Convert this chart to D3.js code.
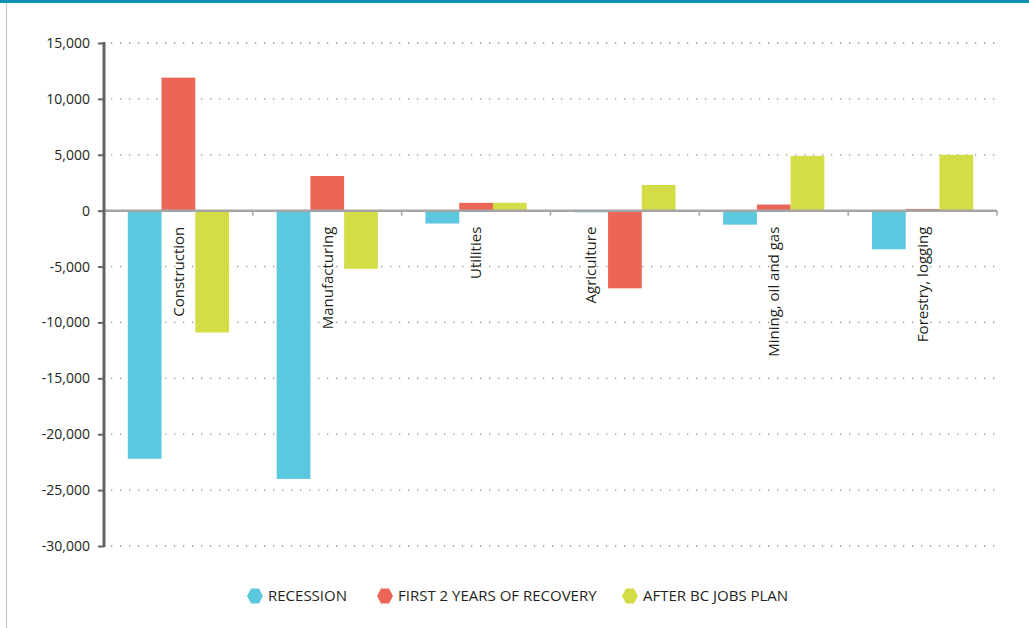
<!DOCTYPE html>
<html>
<head>
<meta charset="utf-8">
<script src="https://cdn.jsdelivr.net/npm/d3@7"></script>
<style>
  html, body { margin: 0; padding: 0; background: #fff; }
  svg { display: block; }
  text { font-family: "Open Sans", "DejaVu Sans", sans-serif; fill: #231f20; }
</style>
</head>
<body>
<svg id="chart" width="1029" height="628"></svg>
<script>
const categories = ["Construction", "Manufacturing", "Utilities", "Agriculture", "Mining, oil and gas", "Forestry, logging"];
const recession = [-22200, -24000, -1150, -150, -1250, -3450];
const recovery = [11900, 3100, 700, -6950, 550, 150];
const jobsPlan = [-10900, -5200, 700, 2300, 4900, 5000];
const seriesNames = ["RECESSION", "FIRST 2 YEARS OF RECOVERY", "AFTER BC JOBS PLAN"];
const seriesColors = ["#5bc8df", "#ec6657", "#d4dc46"];
const yTicks = [15000, 10000, 5000, 0, -5000, -10000, -15000, -20000, -25000, -30000];

(function () {
const seriesValues = [recession, recovery, jobsPlan];
const svg = d3.select("#chart");

// frame
svg.append("rect").attr("x", 0).attr("y", 0).attr("width", 1029).attr("height", 3).attr("fill", "#0a91b1");
svg.append("line").attr("x1", 6.5).attr("x2", 6.5).attr("y1", 3).attr("y2", 628)
  .attr("stroke", "#c6c6c6").attr("stroke-width", 1.2);

const pLeft = 104, pRight = 997, pTop = 43, pBottom = 546;
const y = d3.scaleLinear().domain([-30000, 15000]).range([pBottom, pTop]);
const x0 = d3.scaleBand().domain(categories).range([pLeft, pRight]).paddingInner(0.32).paddingOuter(0.16);
const x1 = d3.scaleBand().domain(seriesNames).range([0, x0.bandwidth()]);
const step = x0.step();

// gridlines
svg.append("g").selectAll("line").data(yTicks.filter(d => d !== 0)).join("line")
  .attr("x1", pLeft + 7).attr("x2", pRight)
  .attr("y1", d => y(d)).attr("y2", d => y(d))
  .attr("stroke", "#8e8e8e").attr("stroke-width", 1.3)
  .attr("stroke-dasharray", "1.3 7.7");

// bars
const rows = [];
categories.forEach((c, i) => seriesNames.forEach((s, j) => rows.push({ c, s, j, v: seriesValues[j][i] })));
svg.append("g").selectAll("rect").data(rows).join("rect")
  .attr("x", d => x0(d.c) + x1(d.s))
  .attr("width", x1.bandwidth())
  .attr("y", d => y(Math.max(0, d.v)))
  .attr("height", d => Math.abs(y(d.v) - y(0)))
  .attr("fill", d => seriesColors[d.j]);

// zero line with category ticks
const zg = svg.append("g");
zg.append("line").attr("x1", pLeft).attr("x2", pRight).attr("y1", y(0)).attr("y2", y(0))
  .attr("stroke", "#a5a5a5").attr("stroke-width", 2.5);
zg.selectAll("line.t").data(d3.range(1, categories.length + 1)).join("line").attr("class", "t")
  .attr("x1", d => pLeft + d * step).attr("x2", d => pLeft + d * step)
  .attr("y1", y(0)).attr("y2", y(0) + 5)
  .attr("stroke", "#a5a5a5").attr("stroke-width", 1.5);

// y axis
const fmt = d3.format(",");
const yAxis = d3.axisLeft(y).tickValues(yTicks).tickFormat(d => fmt(d).replace("\u2212", "-")).tickSize(6).tickPadding(8);
const ag = svg.append("g").attr("transform", `translate(${pLeft},0)`).call(yAxis);
ag.select(".domain").attr("stroke", "#606468").attr("stroke-width", 3).attr("d", `M0,${pTop - 1}V${pBottom + 1}`);
ag.selectAll(".tick line").attr("stroke", "#606468").attr("stroke-width", 2);
ag.selectAll(".tick text").attr("font-size", 14).attr("font-family", "'Open Sans', sans-serif").attr("fill", "#231f20");

// category labels (moved onto the first bar when the middle bar hangs below the axis)
svg.append("g").selectAll("text").data(categories).join("text")
  .attr("transform", (d, i) => {
    const cx = recovery[i] < 0
      ? x0(d) + x1(seriesNames[0]) + x1.bandwidth() / 2
      : x0(d) + x0.bandwidth() / 2;
    return `translate(${cx},${y(0) + 16}) rotate(-90)`;
  })
  .attr("text-anchor", "end")
  .attr("dy", "0.35em")
  .attr("font-size", 15)
  .text(d => d);

// legend
const legendX = [247, 377, 622];
const hex = (cx, cy, r) => d3.range(6).map(k => {
  const a = Math.PI / 3 * k;
  return [cx + r * Math.cos(a), cy + r * 1.1 * Math.sin(a)];
});
const lg = svg.append("g").selectAll("g").data(seriesNames).join("g")
  .attr("transform", (d, i) => `translate(${legendX[i]},596)`);
lg.append("path")
  .attr("d", (d, i) => "M" + hex(8, 0, 8).join("L") + "Z")
  .attr("fill", (d, i) => seriesColors[i]);
lg.append("text").attr("x", 21).attr("dy", "0.35em").attr("font-size", 15).text(d => d);
})();
</script>
</body>
</html>
